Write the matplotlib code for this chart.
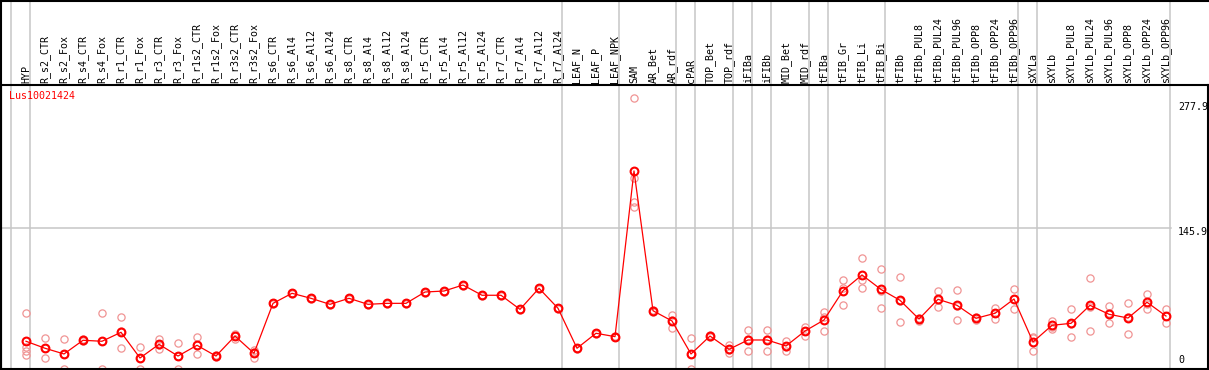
import matplotlib
matplotlib.use("Agg")
import matplotlib.pyplot as plt
import matplotlib.transforms as mtransforms
import numpy as np

# ---------------- data ----------------
categories = [
    "HYP", "R_s2_CTR", "R_s2_Fox", "R_s4_CTR", "R_s4_Fox", "R_r1_CTR", "R_r1_Fox",
    "R_r3_CTR", "R_r3_Fox", "R_r1s2_CTR", "R_r1s2_Fox", "R_r3s2_CTR", "R_r3s2_Fox",
    "R_s6_CTR", "R_s6_Al4", "R_s6_Al12", "R_s6_Al24", "R_s8_CTR", "R_s8_Al4",
    "R_s8_Al12", "R_s8_Al24", "R_r5_CTR", "R_r5_Al4", "R_r5_Al12", "R_r5_Al24",
    "R_r7_CTR", "R_r7_Al4", "R_r7_Al12", "R_r7_Al24", "LEAF_N", "LEAF_P", "LEAF_NPK",
    "SAM", "AR_Bet", "AR_rdf", "cPAR", "TOP_Bet", "TOP_rdf", "iFIBa", "iFIBb",
    "MID_Bet", "MID_rdf", "tFIBa", "tFIB_Gr", "tFIB_Li", "tFIB_Bi", "tFIBb",
    "tFIBb_PUL8", "tFIBb_PUL24", "tFIBb_PUL96", "tFIBb_OPP8", "tFIBb_OPP24",
    "tFIBb_OPP96", "sXYLa", "sXYLb", "sXYLb_PUL8", "sXYLb_PUL24", "sXYLb_PUL96",
    "sXYLb_OPP8", "sXYLb_OPP24", "sXYLb_OPP96",
]

group_sizes = [1, 28, 3, 3, 1, 2, 1, 1, 2, 1, 3, 7, 1, 7]

gene_label = "Lus10021424"

means = [
    30.9, 23.8, 18.0, 31.9, 30.9, 40.0, 13.9, 27.8, 15.9, 26.8, 15.9, 36.2, 18.7,
    69.4, 79.6, 74.5, 68.4, 74.5, 68.4, 69.4, 69.4, 80.9, 81.9, 88.0, 77.6,
    77.6, 63.3, 84.7, 64.4, 23.8, 39.0, 35.6,
    203.8, 61.9, 51.5, 18.0, 36.2, 22.7, 32.2, 32.2, 26.1, 41.3,
    52.5, 82.2, 98.2, 83.5, 72.5, 53.5, 73.5, 67.4, 54.2, 59.3, 73.8,
    30.2, 47.1, 49.1, 67.4, 58.3, 54.5, 70.5, 56.5,
]

replicates = [
    [59.6, 25.1, 21.0, 17.0],
    [34.2, 23.6, 13.6],
    [32.9, 18.4, 2.7],
    [33.0, 31.9, 31.0],
    [59.3, 30.7, 2.7],
    [55.2, 41.0, 23.8],
    [25.1, 13.9, 2.7],
    [32.9, 27.1, 23.4],
    [28.8, 16.2, 2.7],
    [35.2, 27.6, 17.6],
    [16.5, 15.9, 15.3],
    [37.9, 36.2, 33.5],
    [22.3, 19.6, 14.2],
    [69.9, 69.4, 68.9],
    [80.1, 79.6, 79.1],
    [75.0, 74.5, 74.0],
    [68.9, 68.4, 67.9],
    [75.0, 74.5, 74.0],
    [68.9, 68.4, 67.9],
    [69.9, 69.4, 68.9],
    [69.9, 69.4, 68.9],
    [81.4, 80.9, 80.4],
    [82.4, 81.9, 81.4],
    [88.5, 88.0, 87.5],
    [78.1, 77.6, 77.1],
    [78.1, 77.6, 77.1],
    [63.8, 63.3, 62.8],
    [85.2, 84.7, 84.2],
    [64.9, 64.4, 63.9],
    [24.3, 23.8, 23.3],
    [39.5, 39.0, 38.5],
    [36.1, 35.6, 35.1],
    [277.9, 197.0, 172.6, 167.5],
    [63.0, 61.9, 60.8],
    [57.6, 52.9, 44.0],
    [33.9, 17.7, 2.4],
    [37.0, 36.2, 35.4],
    [27.1, 21.7, 19.3],
    [42.3, 33.3, 21.0],
    [42.3, 33.0, 21.3],
    [31.5, 25.5, 21.3],
    [45.7, 41.7, 36.5],
    [60.6, 55.6, 41.3],
    [93.1, 84.7, 67.4],
    [115.1, 93.1, 84.7],
    [104.0, 82.1, 64.4],
    [95.8, 71.5, 50.2],
    [55.0, 53.7, 51.8],
    [81.9, 73.2, 65.4],
    [82.9, 66.8, 52.5],
    [55.5, 54.2, 52.9],
    [64.7, 59.4, 53.8],
    [84.0, 73.7, 63.7],
    [35.5, 34.1, 21.0],
    [51.8, 45.8, 43.7],
    [63.7, 48.4, 35.2],
    [95.1, 65.8, 41.3],
    [66.7, 59.1, 49.1],
    [69.7, 55.8, 38.0],
    [78.9, 68.9, 63.7],
    [63.7, 56.7, 49.1],
]

ytick_values = [277.9, 145.9, 0]
ytick_labels = ["277.9", "145.9", "0"]

# ---------------- layout constants (pixels) ----------------
W, H = 1209, 370
AX_L, AX_R = 1, 1208          # plot box left/right pixel
AX_T, AX_B = 85, 369          # plot box top/bottom pixel
X0, DX = 26, 19               # pixel of first category, spacing
Y0, SY = 371.7, 0.985         # pixel of value 0, pixels per unit
GRID_RIGHT = 1171

RED = "#ff0000"
PINK = "#f09494"
GRAY = "#c6c6c6"
FONT = "DejaVu Sans Mono"
FS = 7.2

fig = plt.figure(figsize=(W / 100, H / 100), dpi=100)
ax = fig.add_axes([AX_L / W, (H - AX_B) / H, (AX_R - AX_L) / W, (AX_B - AX_T) / H])
ax.set_xlim((AX_L - X0) / DX, (AX_R - X0) / DX)
ax.set_ylim((Y0 - AX_B) / SY, (Y0 - AX_T) / SY)
ax.set_xticks([])
ax.set_yticks([])
for s in ax.spines.values():
    s.set_color("black")
    s.set_linewidth(1.5)

ax_h = AX_B - AX_T
# top border of figure and left border through header
fig.add_artist(plt.Line2D([0, 1], [1 - 0.5 / H, 1 - 0.5 / H], color="black", lw=1.5,
                          transform=fig.transFigure))
fig.add_artist(plt.Line2D([AX_L / W, AX_L / W], [0, 1], color="black", lw=1.5,
                          transform=fig.transFigure))

# group separator lines
bounds = np.concatenate([[0], np.cumsum(group_sizes)]) - 14.7 / DX
for b in bounds:
    ax.axvline(b, ymin=0, ymax=AX_B / ax_h, color=GRAY, lw=1.1, clip_on=False, zorder=1)

# horizontal grid line (middle tick)
ax.axhline(ytick_values[1], xmin=0, xmax=(GRID_RIGHT - AX_L) / (AX_R - AX_L),
           color=GRAY, lw=1.1, zorder=1)

x = np.arange(len(categories))

# replicates
for i, reps in enumerate(replicates):
    ax.plot([i] * len(reps), reps, linestyle="none", marker="o", ms=5.2,
            mfc="none", mec=PINK, mew=0.9, zorder=2, clip_on=True)

# mean line
ax.plot(x, means, color=RED, lw=0.9, zorder=3)
ax.plot(x, means, linestyle="none", marker="o", ms=5.6, mfc="none", mec=RED,
        mew=1.5, zorder=4)

# header labels
hdr = mtransforms.blended_transform_factory(ax.transData, ax.transAxes)
for i, c in enumerate(categories):
    ax.text(i, 1 + 2 / ax_h, c, rotation=90, ha="center", va="bottom",
            fontsize=FS, family=FONT, transform=hdr, clip_on=False)

# gene label
ax.text(8 / (AX_R - AX_L), 1 - (96 - AX_T) / ax_h, gene_label, color=RED,
        fontsize=FS, family=FONT, ha="left", va="center", transform=ax.transAxes)

# y labels on the right
lab_tr = mtransforms.blended_transform_factory(fig.transFigure, ax.transData)
lx = 1178 / W
ax.text(lx, ytick_values[0], ytick_labels[0], ha="left", va="top", fontsize=FS,
        family=FONT, transform=lab_tr + mtransforms.ScaledTranslation(0, -4 / 100, fig.dpi_scale_trans))
ax.text(lx, ytick_values[1], ytick_labels[1], ha="left", va="top", fontsize=FS,
        family=FONT, transform=lab_tr + mtransforms.ScaledTranslation(0, 1 / 100, fig.dpi_scale_trans))
ax.text(lx, 4 / ax_h, ytick_labels[2], ha="left", va="bottom", fontsize=FS,
        family=FONT, transform=mtransforms.blended_transform_factory(fig.transFigure, ax.transAxes))

fig.savefig("out.png", dpi=100)
